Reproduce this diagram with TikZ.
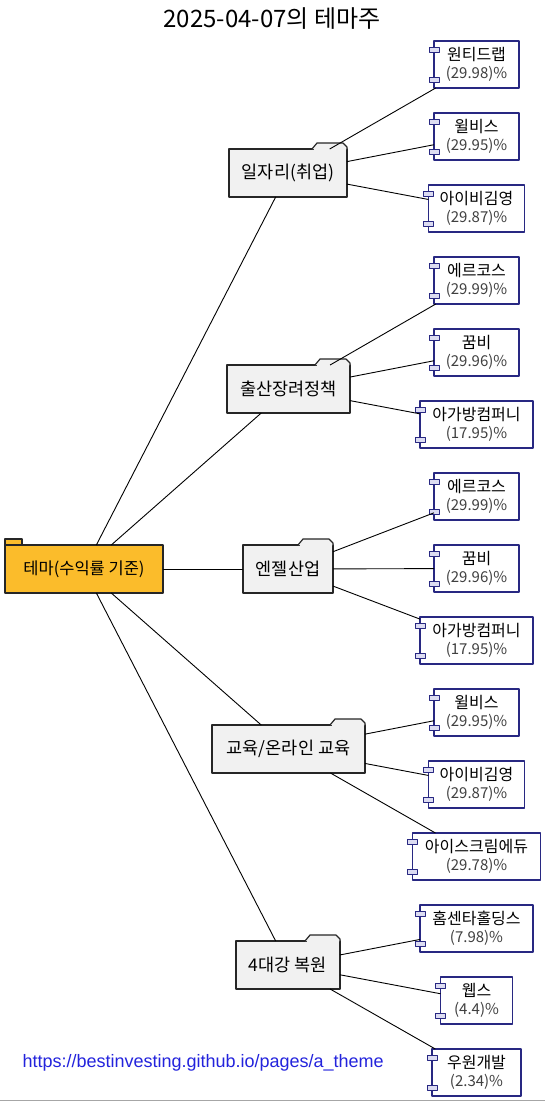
\documentclass[tikz,border=0pt]{standalone}
\usepackage{fontspec}
\setmainfont{Noto Sans CJK KR}
\newfontfamily\urlfont{Liberation Sans}
\usepackage{tikz}
\usetikzlibrary{calc}
\definecolor{rootorange}{RGB}{251,188,43}
\definecolor{foldergray}{RGB}{241,241,241}
\definecolor{compnavy}{RGB}{40,40,130}
\definecolor{pinlilac}{RGB}{220,220,242}
\definecolor{urlblue}{RGB}{35,35,220}
\tikzset{folder/.style={draw=black!85,line width=1.2pt,fill=foldergray,minimum height=48,inner sep=0pt,outer sep=0pt,font=\fontsize{17.5}{20}\selectfont},
  comp/.style={draw=compnavy,line width=1.2pt,fill=white,minimum height=47,inner sep=0pt,outer sep=0pt,align=center,font=\fontsize{16}{18}\selectfont},
  pin/.style={draw=compnavy,line width=1pt,fill=pinlilac},
  link/.style={black,line width=0.9pt}}
\newcommand{\pct}[1]{{\fontsize{15}{18}\selectfont\color{black!75}#1}}

\begin{document}
\begin{tikzpicture}[x=1pt,y=-1pt,line join=round]
\useasboundingbox (0,0) rectangle (545,1103);
% --- title
\node[font=\fontsize{24}{28}\selectfont] (title) at (272,19) {2025-04-07의 테마주};
% --- root and theme folders
\node[folder,fill=rootorange,minimum width=158,font=\fontsize{16.5}{20}\selectfont] (root) at (84,569) {테마(수익률 기준)};
\node[folder,minimum width=118] (job) at (288,173) {일자리(취업)};
\node[folder,minimum width=123] (birth) at (288.5,389) {출산장려정책};
\node[folder,minimum width=90] (angel) at (288,569) {엔젤산업};
\node[folder,minimum width=153] (edu) at (288.5,749) {교육/온라인 교육};
\node[folder,minimum width=104] (river) at (288,965) {4대강 복원};
\draw[line width=1.2pt,draw=black!85,fill=rootorange] (root.north west) rectangle ++(17,-6);
\foreach \f in {job,birth,angel,edu,river}{
  \draw[line width=1.2pt,draw=black!85,fill=foldergray] ($(\f.north east)+(-35,0)$) -- ++(5,-6) -- ++(26,0) -- ++(4,4) -- (\f.north east);
  \fill[foldergray] ($(\f.north east)+(-33,-0.6)$) rectangle ($(\f.north east)+(-1,0.6)$);
}
% --- stocks
\node[comp,minimum width=85] (j1) at (476.5,64.5) {원티드랩\\\pct{(29.98)\%}};
\node[comp,minimum width=85] (j2) at (476.5,136.5) {윌비스\\\pct{(29.95)\%}};
\node[comp,minimum width=96] (j3) at (476.5,208.5) {아이비김영\\\pct{(29.87)\%}};
\node[comp,minimum width=85] (b1) at (476.5,280.5) {에르코스\\\pct{(29.99)\%}};
\node[comp,minimum width=85] (b2) at (476.5,352.5) {꿈비\\\pct{(29.96)\%}};
\node[comp,minimum width=113] (b3) at (476.5,424.5) {아가방컴퍼니\\\pct{(17.95)\%}};
\node[comp,minimum width=85] (a1) at (476.5,496.5) {에르코스\\\pct{(29.99)\%}};
\node[comp,minimum width=85] (a2) at (476.5,568.5) {꿈비\\\pct{(29.96)\%}};
\node[comp,minimum width=113] (a3) at (476.5,640.5) {아가방컴퍼니\\\pct{(17.95)\%}};
\node[comp,minimum width=85] (e1) at (476.5,712.5) {윌비스\\\pct{(29.95)\%}};
\node[comp,minimum width=96] (e2) at (476.5,784.5) {아이비김영\\\pct{(29.87)\%}};
\node[comp,minimum width=128] (e3) at (476.5,856.5) {아이스크림에듀\\\pct{(29.78)\%}};
\node[comp,minimum width=113] (r1) at (476.5,928.5) {홈센타홀딩스\\\pct{(7.98)\%}};
\node[comp,minimum width=72] (r2) at (476.5,1000.5) {웹스\\\pct{(4.4)\%}};
\node[comp,minimum width=89] (r3) at (476.5,1072.5) {우원개발\\\pct{(2.34)\%}};
\foreach \c in {j1,j2,j3,b1,b2,b3,a1,a2,a3,e1,e2,e3,r1,r2,r3}{
  \draw[pin] ($(\c.north west)+(-5,6)$) rectangle ++(10,5);
  \draw[pin] ($(\c.south west)+(-5,-11)$) rectangle ++(10,5);
}
% --- links
\foreach \f in {job,birth,angel,edu,river} \draw[link] (root) -- (\f);
\foreach \f/\p in {job/j,birth/b,angel/a,edu/e,river/r}
  \foreach \i in {1,2,3} \draw[link] (\f) -- (\p\i);
% --- footer
\node[anchor=west,text=urlblue,font=\urlfont\fontsize{18}{21}\selectfont] (url) at (19,1063) {https://bestinvesting.github.io/pages/a\_theme};
\draw[gray!70,line width=1.5pt] (0,1100.5) -- (545,1100.5);
\end{tikzpicture}
\end{document}
